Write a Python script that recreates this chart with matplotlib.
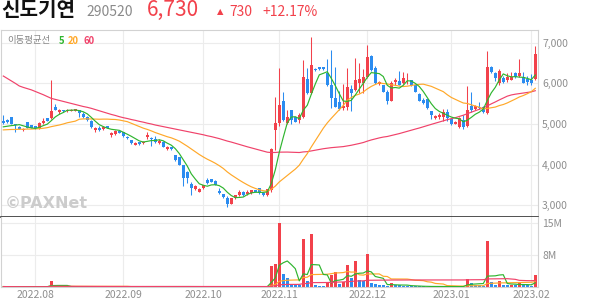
#!/usr/bin/env python3

import matplotlib
matplotlib.use("Agg")
import matplotlib.pyplot as plt
from matplotlib.ticker import FixedLocator, FuncFormatter
import numpy as np
import pandas as pd

plt.rcParams["font.family"] = ["Noto Sans CJK KR", "DejaVu Sans"]

#
# Data (daily candles, 2022-07-20 .. 2023-02-02)
#

opens = [5080, 5110, 5160, 5000, 4930, 4840, 5040, 4970, 4950, 4900,
         5020, 5140, 5140, 5410, 5300, 5340, 5310, 5330, 5330, 5345,
         5240, 5180, 5080, 4840, 4895, 4870, 4950, 4720, 4745, 4830,
         4795, 4690, 4605, 4485, 4550, 4525, 4675, 4665, 4625, 4525,
         4565, 4375, 4430, 4235, 4195, 3990, 3830, 3525, 3395, 3335,
         3420, 3620, 3640, 3605, 3360, 3280, 3170, 3030, 3170, 3250,
         3335, 3280, 3295, 3375, 3420, 3310, 3250, 3380, 4850, 5020,
         5575, 5015, 5345, 5165, 5100, 5180, 6100, 5760, 6350, 6400,
         6400, 6250, 5960, 5630, 5530, 5385, 5430, 5850, 5835, 6000,
         6000, 6165, 6680, 6370, 5985, 5960, 5795, 5575, 6040, 6060,
         6015, 6120, 6080, 5960, 5740, 5590, 5610, 5320, 5140, 5165,
         5165, 5300, 5115, 5010, 4920, 5100, 4950, 5445, 5370, 5420,
         5425, 5265, 6390, 6250, 6000, 6125, 6080, 6085, 6250, 6180,
         6165, 6110, 6080, 6100]

highs = [5230, 5120, 5170, 5010, 4940, 4890, 5050, 4980, 4960, 5040,
         5140, 5150, 6080, 5480, 5360, 5350, 5380, 5360, 5380, 5350,
         5290, 5200, 5100, 4930, 4960, 4945, 4960, 4800, 4840, 4840,
         4800, 4700, 4610, 4550, 4560, 4570, 4800, 4670, 4700, 4640,
         4575, 4450, 4440, 4240, 4200, 4000, 3840, 3580, 3510, 3420,
         3510, 3680, 3650, 3615, 3420, 3290, 3230, 3180, 3260, 3370,
         3345, 3380, 3385, 3385, 3430, 3320, 3410, 4400, 5670, 6370,
         5780, 5340, 5350, 5175, 5260, 6580, 6370, 7150, 6370, 6410,
         6410, 6590, 6830, 6400, 5800, 5990, 6380, 5950, 6630, 6500,
         6350, 6940, 6700, 6420, 6060, 5970, 5830, 6050, 6120, 6300,
         6290, 6250, 6090, 5980, 5760, 5640, 5620, 5330, 5210, 5260,
         5360, 5360, 5140, 5080, 5160, 5220, 5940, 5790, 5460, 5540,
         5440, 6800, 6420, 6290, 6360, 6170, 6250, 6290, 6290, 6600,
         6290, 6170, 6230, 6920]

lows = [5010, 5030, 4990, 4810, 4870, 4830, 4890, 4890, 4880, 4870,
        5010, 5070, 5130, 5340, 5245, 5300, 5290, 5320, 5320, 5165,
        5150, 5080, 4900, 4810, 4830, 4860, 4890, 4690, 4740, 4770,
        4690, 4640, 4520, 4480, 4490, 4520, 4620, 4470, 4530, 4520,
        4430, 4360, 4370, 4100, 3980, 3475, 3540, 3255, 3380, 3320,
        3410, 3530, 3570, 3490, 3280, 3190, 2950, 3020, 3160, 3240,
        3240, 3250, 3285, 3320, 3290, 3240, 3240, 3330, 4360, 4950,
        5080, 4990, 4990, 5040, 5020, 5150, 5740, 5740, 6300, 6340,
        6340, 5940, 5400, 5420, 5350, 5340, 5340, 5330, 5800, 5755,
        5755, 6140, 6310, 5990, 5960, 5780, 5500, 5560, 5960, 5950,
        5990, 5990, 5940, 5780, 5560, 5500, 5370, 5130, 5130, 5120,
        5070, 5070, 4980, 5000, 4900, 4880, 4920, 5300, 5350, 5370,
        5260, 5240, 6250, 6060, 5950, 6000, 6040, 6070, 6120, 6150,
        6000, 5960, 5970, 6080]

closes = [5020, 5050, 5000, 4970, 4880, 4880, 4900, 4900, 4890, 5030,
          5080, 5080, 5330, 5350, 5345, 5310, 5345, 5350, 5370, 5265,
          5170, 5090, 4920, 4895, 4840, 4935, 4895, 4785, 4830, 4775,
          4700, 4650, 4530, 4540, 4500, 4565, 4730, 4625, 4545, 4590,
          4440, 4440, 4380, 4115, 3990, 3680, 3660, 3420, 3475, 3410,
          3500, 3540, 3580, 3500, 3295, 3200, 3030, 3170, 3250, 3315,
          3250, 3335, 3375, 3330, 3300, 3250, 3395, 4390, 5020, 5470,
          5100, 5165, 5100, 5060, 5220, 6165, 5760, 6450, 6320, 6350,
          6350, 5960, 5630, 5430, 5360, 5440, 5920, 5755, 6080, 6100,
          6150, 6660, 6330, 6015, 6040, 5795, 5575, 6000, 6080, 5960,
          6140, 6140, 5960, 5795, 5575, 5525, 5385, 5220, 5195, 5220,
          5300, 5140, 5000, 5060, 5140, 4920, 5345, 5345, 5445, 5400,
          5300, 6395, 6290, 6125, 6310, 6040, 6165, 6160, 6150, 6250,
          6015, 6030, 6000, 6730]

# volume in millions of shares
volumes = [1.05, 1.02, 1.04, 1.01, 1.02, 1.01, 1.03, 1.02, 1.01, 1.04,
           1.05, 1.03, 2.20, 1.15, 1.06, 1.03, 1.04, 1.02, 1.03, 1.05,
           1.03, 1.02, 1.04, 1.02, 1.03, 1.04, 1.02, 1.03, 1.05, 1.02,
           1.03, 1.02, 1.04, 1.03, 1.02, 1.03, 1.05, 1.03, 1.02, 1.03,
           1.04, 1.02, 1.03, 1.05, 1.06, 1.08, 1.05, 1.06, 1.03, 1.02,
           1.03, 1.04, 1.02, 1.03, 1.04, 1.03, 1.06, 1.04, 1.03, 1.02,
           1.03, 1.02, 1.03, 1.02, 1.03, 1.02, 1.10, 5.55, 6.00, 14.90,
           3.80, 3.00, 1.60, 1.55, 1.50, 11.50, 2.27, 12.50, 1.40, 1.20,
           1.15, 1.76, 3.60, 4.17, 1.60, 2.10, 5.77, 2.85, 6.64, 2.50,
           2.30, 8.10, 1.76, 1.60, 1.50, 1.30, 1.25, 1.76, 1.35, 1.30,
           1.25, 1.20, 1.15, 1.10, 1.08, 1.07, 1.06, 1.08, 1.05, 1.06,
           1.07, 1.05, 1.06, 1.05, 1.05, 1.04, 2.80, 1.80, 1.40, 1.30,
           1.20, 11.00, 2.00, 1.50, 2.20, 1.50, 1.40, 1.45, 1.35, 1.80,
           1.50, 1.30, 1.20, 3.60]

# moving average values at the start of the chart, whose windows reach
# back before the first candle shown
ma5_head = [4930, 4945, 4960, 4970]
ma20_head = [4855, 4860, 4865, 4865, 4870, 4870, 4875, 4875, 4880, 4885,
             4895, 4910, 4935, 4955, 4975, 5000, 5030, 5050, 5070]
ma60_head = [6180, 6120, 6060, 6000, 5935, 5900, 5870, 5840, 5800, 5760,
             5720, 5675, 5630, 5605, 5580, 5555, 5530, 5505, 5480, 5455,
             5430, 5410, 5385, 5355, 5325, 5295, 5265, 5235, 5210, 5180,
             5155, 5135, 5110, 5090, 5065, 5045, 5020, 5000, 4975, 4955,
             4935, 4915, 4895, 4875, 4855, 4835, 4815, 4795, 4775, 4755,
             4735, 4710, 4690, 4665, 4640, 4610, 4580, 4555, 4525]

# first trading day of each month (candle index) and its label
month_idx = [8, 30, 50, 69, 91, 112, 132]
month_labels = ["2022.08", "2022.09", "2022.10", "2022.11",
                "2022.12", "2023.01", "2023.02"]

price_ticks = [3000, 4000, 5000, 6000, 7000]
volume_ticks = [8, 15]

#
# Styling
#

RED = "#f2414b"
BLUE = "#2b8cf0"
GREEN = "#2fb52f"
ORANGE = "#ffa829"
PINK = "#f0426a"
GRID = "#ececec"
LABEL = "#8e8e8e"
BORDER = "#d2d2d2"
LW = 0.85

W, H = 594, 304


def fx(px):
    return px / W


def fy(py):
    return 1 - py / H


opens = np.array(opens, dtype=float)
highs = np.array(highs, dtype=float)
lows = np.array(lows, dtype=float)
closes = np.array(closes, dtype=float)
volumes = np.array(volumes, dtype=float)
x = np.arange(len(closes))

ma5 = pd.Series(closes).rolling(5).mean().to_numpy()
ma5[:len(ma5_head)] = ma5_head
ma20 = pd.Series(closes).rolling(20).mean().to_numpy()
ma20[:len(ma20_head)] = ma20_head
ma60 = pd.Series(closes).rolling(60).mean().to_numpy()
ma60[:len(ma60_head)] = ma60_head

vol_s = pd.Series(volumes)
vma5 = vol_s.rolling(5, min_periods=1).mean()
vma20 = vol_s.rolling(20, min_periods=1).mean()
vma60 = vol_s.rolling(60, min_periods=1).mean()

fig = plt.figure(figsize=(W / 100, H / 100), dpi=100)
ax = fig.add_axes([fx(1), fy(217), fx(538) - fx(1), fy(30) - fy(217)])
axv = fig.add_axes([fx(1), fy(286.8), fx(538) - fx(1), fy(217) - fy(286.8)])

# Price candles
candle_col = np.where(closes >= opens, RED, BLUE)
ax.vlines(x, lows, highs, colors=candle_col, linewidth=0.75, zorder=2)
body_low = np.minimum(opens, closes)
body_h = np.maximum(np.abs(closes - opens), 15)
ax.bar(x, body_h, bottom=body_low, width=0.72, color=candle_col,
       linewidth=0, zorder=2)

ax.plot(x, ma60, color=PINK, linewidth=LW, zorder=3)
ax.plot(x, ma20, color=ORANGE, linewidth=LW, zorder=3)
ax.plot(x, ma5, color=GREEN, linewidth=LW, zorder=4)

ax.set_xlim(-0.575, 133.68)
ax.set_ylim(2712, 7312)
ax.xaxis.set_major_locator(FixedLocator(month_idx))
ax.set_xticklabels([])
ax.yaxis.set_major_locator(FixedLocator(price_ticks))
ax.yaxis.set_major_formatter(FuncFormatter(lambda v, p: f"{int(v):,}"))
ax.yaxis.tick_right()
ax.tick_params(axis="both", length=0, labelsize=7.5, labelcolor=LABEL, pad=3)
ax.grid(True, color=GRID, linewidth=0.8)
ax.set_axisbelow(True)
for side in ("top", "left", "right"):
    ax.spines[side].set_color(BORDER)
    ax.spines[side].set_linewidth(0.8)
ax.spines["bottom"].set_color("#333333")
ax.spines["bottom"].set_linewidth(1.2)

# Volume bars, red when volume rose against the day before
prev = np.concatenate([[volumes[0]], volumes[:-1]])
vol_col = np.where(volumes >= prev, RED, BLUE)
axv.bar(x, volumes, width=0.75, color=vol_col, linewidth=0, zorder=2)
axv.plot(x, vma20, color=ORANGE, linewidth=LW, zorder=3)
axv.plot(x, vma5, color=GREEN, linewidth=LW, zorder=4)
axv.plot(x, vma60, color=PINK, linewidth=LW, zorder=5)

axv.set_xlim(-0.575, 133.68)
axv.set_ylim(1.0, 16.27)
axv.xaxis.set_major_locator(FixedLocator(month_idx))
axv.set_xticklabels(month_labels)
axv.yaxis.set_major_locator(FixedLocator(volume_ticks))
axv.yaxis.set_major_formatter(FuncFormatter(lambda v, p: f"{int(v)}M"))
axv.yaxis.tick_right()
axv.tick_params(axis="both", length=0, labelsize=7.5, labelcolor=LABEL, pad=3)
axv.tick_params(axis="x", pad=2)
axv.grid(True, color=GRID, linewidth=0.8)
axv.set_axisbelow(True)
axv.spines["top"].set_visible(False)
for side in ("bottom", "left", "right"):
    axv.spines[side].set_color(BORDER)
    axv.spines[side].set_linewidth(0.8)

# Header
fig.text(fx(1), fy(10), "신도기연", fontsize=14.5, fontweight="bold",
         color="#111111", va="center", ha="left")
fig.text(fx(86), fy(11.5), "290520", fontsize=10, color="#8a8a8a",
         va="center", ha="left")
fig.text(fx(147), fy(9.5), "6,730", fontsize=15, color=RED,
         va="center", ha="left")
fig.text(fx(217), fy(11.5), "▲", fontsize=6, color=RED, va="center",
         ha="left", family=["DejaVu Sans"])
fig.text(fx(229), fy(11.5), "730", fontsize=10, color=RED, va="center",
         ha="left")
fig.text(fx(262), fy(11.5), "+12.17%", fontsize=10, color=RED,
         va="center", ha="left")

# Moving average legend
fig.text(fx(7), fy(41), "이동평균선", fontsize=6.8, color="#888888",
         va="center", ha="left")
fig.text(fx(59), fy(41), "5", fontsize=6.8, color=GREEN, fontweight="bold",
         va="center", ha="left")
fig.text(fx(68), fy(41), "20", fontsize=6.8, color=ORANGE, fontweight="bold",
         va="center", ha="left")
fig.text(fx(83), fy(41), "60", fontsize=6.8, color=PINK, fontweight="bold",
         va="center", ha="left")

# Watermark
fig.text(fx(5), fy(204), "©PAXNet", fontsize=11.5, fontweight="bold",
         color="#cccccc", va="center", ha="left", family=["DejaVu Sans"])

fig.savefig("out.png", dpi=100)
